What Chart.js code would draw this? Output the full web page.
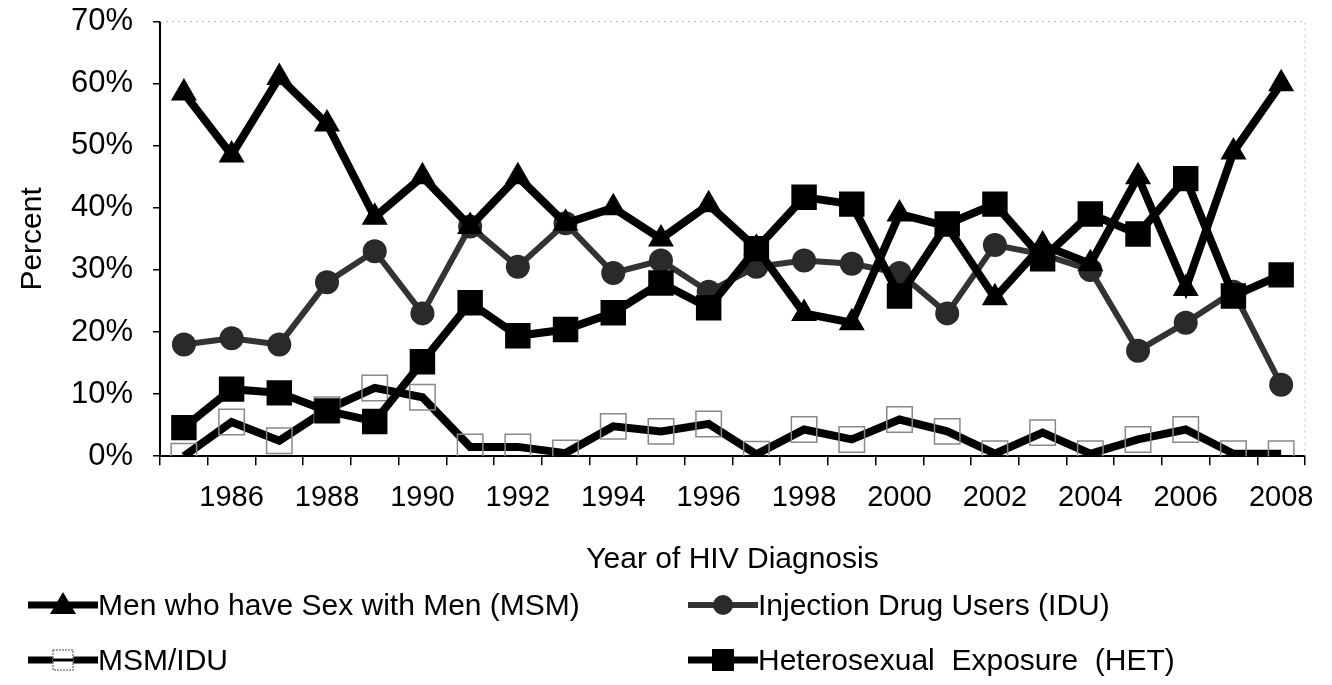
<!DOCTYPE html>
<html>
<head>
  <script src="https://cdn.jsdelivr.net/npm/chart.js"></script>
  <style>
    body { margin: 0; background: #fff; font-family: "Liberation Sans", Arial, sans-serif; }
    #wrap { position: relative; width: 1332px; height: 685px; }
    #chart { position: absolute; left: 0; top: 0; }
    .leg { position: absolute; display: flex; align-items: center; font-size: 30px; color: #000; white-space: nowrap; }
  </style>
</head>
<body>
  <div id="wrap">
    <canvas id="chart" width="1332" height="685"></canvas>
    <div class="leg" style="left:28px; top:588px;">
      <svg width="70" height="34"><line x1="0" y1="17" x2="70" y2="17" stroke="#000" stroke-width="7"/><polygon points="35,4 48,26 22,26" fill="#000"/></svg>Men who have Sex with Men (MSM)
    </div>
    <div class="leg" style="left:688px; top:588px;">
      <svg width="70" height="34"><line x1="0" y1="17" x2="70" y2="17" stroke="#333" stroke-width="6"/><circle cx="35" cy="17" r="10" fill="#2a2a2a"/></svg>Injection Drug Users (IDU)
    </div>
    <div class="leg" style="left:28px; top:643px;">
      <svg width="70" height="34"><line x1="0" y1="17" x2="70" y2="17" stroke="#000" stroke-width="7"/><rect x="25" y="7" width="20" height="20" fill="#fff" stroke="#888" stroke-width="1.5" stroke-dasharray="2,1"/><line x1="25" y1="17" x2="45" y2="17" stroke="#000" stroke-width="3"/></svg>MSM/IDU
    </div>
    <div class="leg" style="left:688px; top:643px;">
      <svg width="70" height="34"><line x1="0" y1="17" x2="70" y2="17" stroke="#000" stroke-width="7"/><rect x="24" y="6" width="22" height="22" fill="#000"/></svg>Heterosexual&nbsp; Exposure&nbsp; (HET)
    </div>
  </div>
  <script>
    // data (percent of diagnoses per year)
    const years = ['1985', '1986', '1987', '1988', '1989', '1990', '1991', '1992', '1993', '1994', '1995', '1996',
                   '1997', '1998', '1999', '2000', '2001', '2002', '2003', '2004', '2005', '2006', '2007', '2008'];
    const msm    = [58.5, 48.5, 61, 53.5, 38.5, 45, 37, 45, 37.5, 40, 35, 40.5, 33.5, 23, 21.5, 39, 37, 25.5, 34, 31, 45, 27, 49, 60];
    const idu    = [18, 19, 18, 28, 33, 23, 37, 30.5, 37.5, 29.5, 31.5, 26.5, 30.5, 31.5, 31, 29.5, 23, 34, 32.5, 30, 17, 21.5, 26.5, 11.5];
    const msmIdu = [0, 5.5, 2.5, 7.5, 11, 9.5, 1.5, 1.5, 0.5, 4.8, 4, 5.2, 0.3, 4.3, 2.7, 5.9, 4, 0.4, 3.8, 0.4, 2.7, 4.3, 0.4, 0.4];
    const het    = [4.6, 10.8, 10.2, 7.3, 5.6, 15.2, 24.7, 19.4, 20.4, 23.1, 27.9, 23.9, 33.4, 41.7, 40.6, 25.8, 37.4, 40.6, 31.8, 39, 35.8, 44.7, 25.8, 29.2];
    const yMax = 70;
    const yStep = 10;

    // faint dotted frame on top and right, like the original plot box
    const dottedFrame = {
      id: 'dottedFrame',
      beforeDatasetsDraw(chart) {
        const a = chart.chartArea;
        const ctx = chart.ctx;
        ctx.save();
        ctx.strokeStyle = '#bbb';
        ctx.lineWidth = 1;
        ctx.setLineDash([2, 4]);
        ctx.beginPath();
        ctx.moveTo(a.left, a.top);
        ctx.lineTo(a.right, a.top);
        ctx.lineTo(a.right, a.bottom);
        ctx.stroke();
        ctx.restore();
      }
    };

    const ctx = document.getElementById('chart').getContext('2d');
    new Chart(ctx, {
      type: 'line',
      data: {
        labels: years,
        datasets: [
          {
            label: 'Men who have Sex with Men (MSM)',
            data: msm,
            borderColor: '#000',
            backgroundColor: '#000',
            borderWidth: 8,
            pointStyle: 'triangle',
            pointRadius: 15,
            pointBorderWidth: 0,
            order: 1
          },
          {
            label: 'Injection Drug Users (IDU)',
            data: idu,
            borderColor: '#333',
            backgroundColor: '#2a2a2a',
            borderWidth: 6,
            pointStyle: 'circle',
            pointRadius: 12,
            pointBorderWidth: 0,
            order: 3
          },
          {
            label: 'MSM/IDU',
            data: msmIdu,
            borderColor: '#000',
            backgroundColor: 'rgba(0,0,0,0)',
            pointBorderColor: '#888',
            borderWidth: 8,
            pointStyle: 'rect',
            pointRadius: 18,
            pointBorderWidth: 1.5,
            order: 4
          },
          {
            label: 'Heterosexual Exposure (HET)',
            data: het,
            borderColor: '#000',
            backgroundColor: '#000',
            borderWidth: 8,
            pointStyle: 'rect',
            pointRadius: 18,
            pointBorderWidth: 0,
            order: 2
          }
        ]
      },
      options: {
        responsive: false,
        animation: false,
        layout: { padding: { left: 11, right: 27, top: 2, bottom: 103 } },
        plugins: {
          legend: { display: false },
          tooltip: { enabled: false }
        },
        scales: {
          x: {
            offset: true,
            grid: { offset: true, drawOnChartArea: false, drawTicks: true, tickLength: 9, color: '#000', lineWidth: 1.5 },
            border: { color: '#000', width: 2 },
            ticks: {
              autoSkip: false,
              maxRotation: 0,
              color: '#000',
              font: { family: 'Liberation Sans', size: 29 },
              padding: 15,
              callback: function (v, i) { return (parseInt(years[i]) % 2 === 0) ? years[i] : ''; }
            },
            title: {
              display: true,
              text: 'Year of HIV Diagnosis',
              color: '#000',
              font: { family: 'Liberation Sans', size: 30 },
              padding: { top: 12 }
            }
          },
          y: {
            min: 0,
            max: yMax,
            grid: { drawOnChartArea: false, drawTicks: true, tickLength: 7, color: '#000', lineWidth: 1.5 },
            border: { color: '#000', width: 2 },
            ticks: {
              stepSize: yStep,
              color: '#000',
              // small lineHeight keeps the tick padding from pushing the plot top down
              font: { family: 'Liberation Sans', size: 31, lineHeight: 0.1 },
              padding: 20,
              callback: function (v) { return v + '%'; }
            },
            title: {
              display: true,
              text: 'Percent',
              color: '#000',
              font: { family: 'Liberation Sans', size: 30 },
              padding: { bottom: 0 }
            }
          }
        }
      },
      plugins: [dottedFrame]
    });
  </script>
</body>
</html>
